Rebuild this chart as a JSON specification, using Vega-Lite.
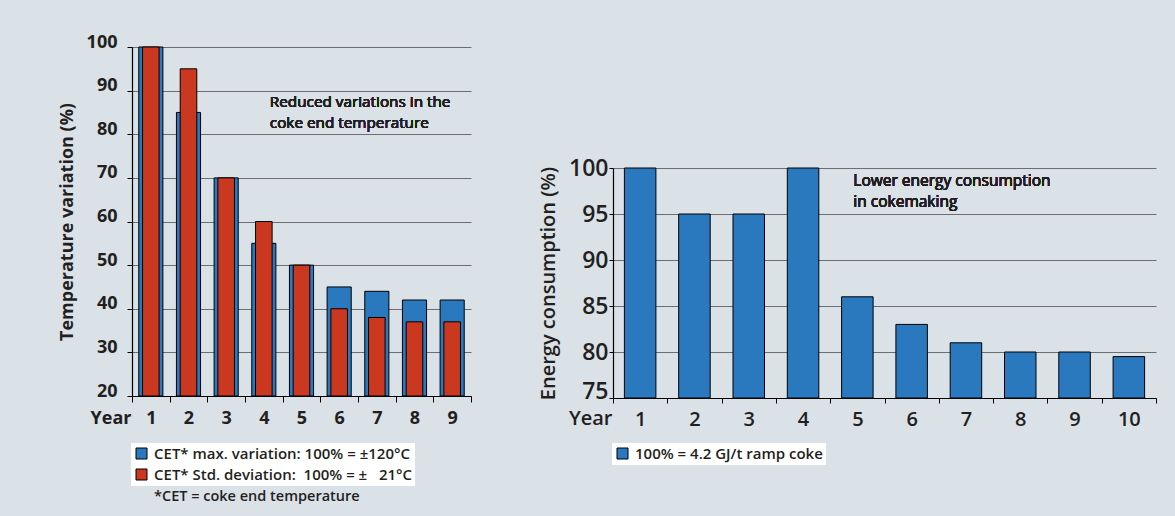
{
  "$schema": "https://vega.github.io/schema/vega-lite/v6.json",
  "background": "#dae1e7",
  "padding": {"left": 58, "top": 33, "right": 30, "bottom": 30},
  "spacing": 66,
  "resolve": {"scale": {"color": "independent", "x": "independent", "y": "independent"}, "legend": {"color": "independent"}},
  "config": {
    "font": "Open Sans",
    "view": {"stroke": null},
    "axis": {"domainColor": "#000000", "tickColor": "#000000", "gridColor": "#6d6e71", "gridWidth": 1, "labelColor": "#231f20", "titleColor": "#231f20", "domainWidth": 1.2, "tickWidth": 1}
  },
  "hconcat": [
    {
      "width": 339,
      "height": 349,
      "title": {"text": "*CET = coke end temperature", "orient": "bottom", "anchor": "start", "frame": "group", "dx": 22, "offset": 4, "fontSize": 14.5, "fontWeight": 600, "color": "#231f20"},
      "data": {"values": [
        {"year": "1", "max": 100, "std": 100},
        {"year": "2", "max": 85, "std": 95},
        {"year": "3", "max": 70, "std": 70},
        {"year": "4", "max": 55, "std": 60},
        {"year": "5", "max": 50, "std": 50},
        {"year": "6", "max": 45, "std": 40},
        {"year": "7", "max": 44, "std": 38},
        {"year": "8", "max": 42, "std": 37},
        {"year": "9", "max": 42, "std": 37}
      ]},
      "encoding": {
        "x": {"field": "year", "type": "ordinal", "scale": {"paddingInner": 0, "paddingOuter": 0},
          "axis": {"title": "Year", "labelAngle": 0, "tickBand": "extent", "tickSize": 6, "labelPadding": 7, "labelFontSize": 18, "labelFontWeight": "bold", "titleFontSize": 18, "titleFontWeight": "bold", "titleAnchor": "start", "titleAlign": "right", "titleBaseline": "middle", "titleX": -1, "titleY": 22, "grid": false}}
      },
      "layer": [
        {
          "mark": {"type": "bar", "width": {"band": 0.64}, "stroke": "#000000", "strokeWidth": 1},
          "encoding": {
            "y": {"field": "max", "type": "quantitative", "title": "Temperature variation (%)", "scale": {"domain": [20, 100], "zero": false, "nice": false},
              "axis": {"values": [20, 30, 40, 50, 60, 70, 80, 90, 100], "tickSize": 5, "labelPadding": 10, "labelOffset": -5, "labelFontSize": 18, "labelFontWeight": "bold", "titleFontSize": 18, "titleFontWeight": "bold", "titlePadding": 10, "grid": true}},
            "y2": {"datum": 20},
            "color": {"datum": "CET* max. variation: 100% = ±120°C", "type": "nominal",
              "scale": {"domain": ["CET* max. variation: 100% = ±120°C", "CET* Std. deviation:\u00a0 100% = ±\u00a0\u00a0 21°C"], "range": ["#2a79be", "#c9381f"]},
              "legend": {"orient": "none", "legendX": -1, "legendY": 396, "title": null, "direction": "vertical", "fillColor": "#ffffff", "padding": 3, "symbolType": "square", "symbolSize": 121, "symbolStrokeColor": "#000000", "symbolStrokeWidth": 1, "symbolOpacity": 1, "labelFontSize": 15, "labelFontWeight": 600, "labelColor": "#231f20", "rowPadding": 5, "labelLimit": 400, "labelOffset": 5}}
          }
        },
        {
          "mark": {"type": "bar", "width": {"band": 0.44}, "stroke": "#000000", "strokeWidth": 1},
          "encoding": {
            "y": {"field": "std", "type": "quantitative", "title": "Temperature variation (%)"},
            "y2": {"datum": 20},
            "color": {"datum": "CET* Std. deviation:\u00a0 100% = ±\u00a0\u00a0 21°C", "type": "nominal"}
          }
        },
        {
          "mark": {"type": "text", "align": "left", "baseline": "alphabetic", "dx": 6, "fontSize": 15.3, "fontWeight": 500, "lineHeight": 21, "color": "#231f20"},
          "encoding": {
            "x": {"datum": "4"},
            "y": {"datum": 86.3, "type": "quantitative", "title": "Temperature variation (%)"},
            "text": {"value": ["Reduced variations in the", "coke end temperature"]}
          }
        }
      ]
    },
    {
      "width": 543,
      "height": 351,
      "data": {"values": [
        {"year": "1", "value": 100},
        {"year": "2", "value": 95},
        {"year": "3", "value": 95},
        {"year": "4", "value": 100},
        {"year": "5", "value": 86},
        {"year": "6", "value": 83},
        {"year": "7", "value": 81},
        {"year": "8", "value": 80},
        {"year": "9", "value": 80},
        {"year": "10", "value": 79.5}
      ]},
      "encoding": {
        "x": {"field": "year", "type": "ordinal", "sort": ["1", "2", "3", "4", "5", "6", "7", "8", "9", "10"], "scale": {"paddingInner": 0, "paddingOuter": 0},
          "axis": {"title": "Year", "labelAngle": 0, "tickBand": "extent", "tickSize": 5, "labelPadding": 6, "labelFontSize": 20, "labelFontWeight": 600, "titleFontSize": 20, "titleFontWeight": 600, "titleAnchor": "start", "titleAlign": "right", "titleBaseline": "middle", "titleX": -1, "titleY": 20, "grid": false}}
      },
      "layer": [
        {
          "mark": {"type": "bar", "width": {"band": 0.58}, "stroke": "#000000", "strokeWidth": 1},
          "encoding": {
            "y": {"field": "value", "type": "quantitative", "title": "Energy consumption (%)", "scale": {"domain": [75, 100], "zero": false, "nice": false, "range": [351, 121]},
              "axis": {"values": [75, 80, 85, 90, 95, 100], "tickSize": 4, "labelPadding": 1, "labelOffset": {"condition": {"test": "datum.value == 75", "value": -7}, "value": 0}, "labelFontSize": 23, "labelFontWeight": 600, "titleFontSize": 20, "titleFontWeight": 600, "titlePadding": 10, "grid": true}},
            "y2": {"datum": 75},
            "color": {"datum": "100% = 4.2 GJ/t ramp coke", "type": "nominal",
              "scale": {"domain": ["100% = 4.2 GJ/t ramp coke"], "range": ["#2a79be"]},
              "legend": {"orient": "none", "legendX": -1, "legendY": 396, "title": null, "direction": "vertical", "fillColor": "#ffffff", "padding": 3, "symbolType": "square", "symbolSize": 121, "symbolStrokeColor": "#000000", "symbolStrokeWidth": 1, "symbolOpacity": 1, "labelFontSize": 15, "labelFontWeight": 600, "labelColor": "#231f20", "labelLimit": 400, "labelOffset": 5}}
          }
        },
        {
          "mark": {"type": "text", "align": "left", "baseline": "alphabetic", "dx": -4, "fontSize": 15.5, "fontWeight": 500, "lineHeight": 20.5, "color": "#231f20"},
          "encoding": {
            "x": {"datum": "5"},
            "y": {"datum": 98.0, "type": "quantitative", "title": "Energy consumption (%)"},
            "text": {"value": ["Lower energy consumption", "in cokemaking"]}
          }
        }
      ]
    }
  ]
}
